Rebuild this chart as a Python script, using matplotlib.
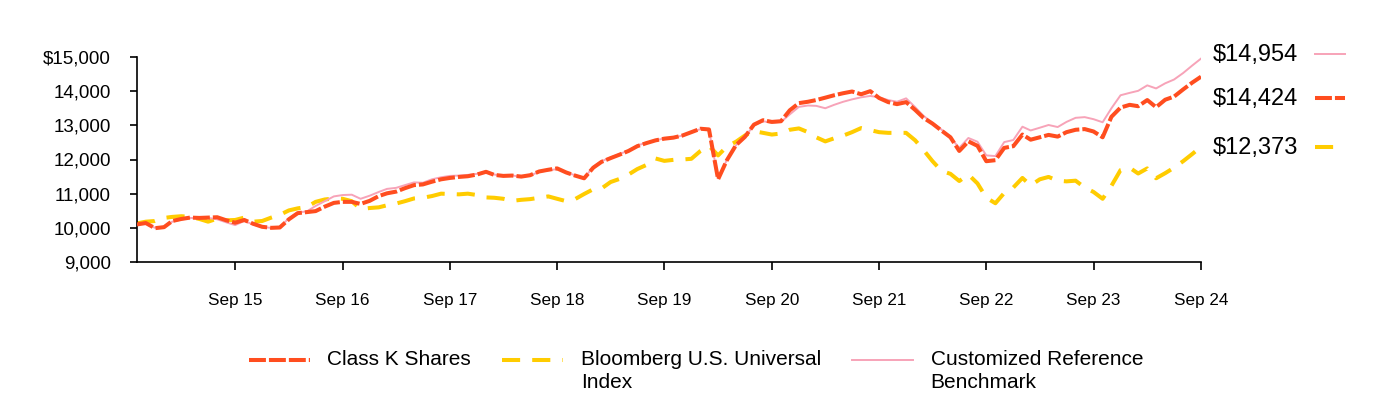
import numpy as np
import pandas as pd
import matplotlib.pyplot as plt
import matplotlib.dates as mdates
from matplotlib.lines import Line2D
from matplotlib.legend_handler import HandlerLine2D
from matplotlib.ticker import FuncFormatter

plt.rcParams['font.family'] = ['Liberation Sans', 'DejaVu Sans']

# Monthly values, Oct 2014 - Sep 2024
dates = pd.date_range('2014-10-31', periods=120, freq='ME')

class_k = [
    10100, 10140, 9990, 10020, 10200, 10260, 10300, 10290, 10300, 10310, 10220, 10150,
    10230, 10120, 10030, 10000, 10010, 10250, 10430, 10460, 10490, 10620, 10730, 10760,
    10760, 10700, 10790, 10930, 11010, 11060, 11160, 11250, 11270, 11350, 11420, 11460,
    11490, 11510, 11560, 11640, 11550, 11520, 11530, 11500, 11540, 11650, 11700, 11740,
    11620, 11530, 11450, 11760, 11930, 12040, 12140, 12250, 12390, 12480, 12560, 12610,
    12640, 12700, 12800, 12900, 12880, 11420, 11980, 12420, 12660, 13020, 13150, 13100,
    13120, 13440, 13650, 13690, 13740, 13810, 13880, 13940, 13990, 13910, 14000, 13800,
    13680, 13620, 13680, 13450, 13220, 13050, 12850, 12650, 12250, 12530, 12400, 11950,
    11980, 12340, 12390, 12730, 12580, 12650, 12720, 12670, 12800, 12870, 12890, 12820,
    12650, 13250, 13520, 13600, 13560, 13740, 13530, 13750, 13840, 14050, 14250, 14424,
]

bloomberg = [
    10130, 10180, 10200, 10290, 10320, 10340, 10320, 10260, 10180, 10270, 10220, 10230,
    10300, 10180, 10200, 10300, 10380, 10510, 10570, 10610, 10760, 10830, 10860, 10850,
    10780, 10550, 10580, 10600, 10660, 10710, 10780, 10860, 10880, 10930, 11000, 10990,
    10980, 11000, 10960, 10890, 10880, 10850, 10790, 10820, 10840, 10880, 10920, 10850,
    10780, 10840, 10990, 11130, 11150, 11340, 11430, 11560, 11720, 11840, 12030, 11960,
    11990, 12000, 12020, 12250, 12400, 12120, 12380, 12520, 12700, 12830, 12780, 12730,
    12760, 12870, 12910, 12800, 12650, 12530, 12620, 12700, 12800, 12920, 12860, 12800,
    12780, 12780, 12780, 12560, 12280, 11950, 11670, 11580, 11370, 11560, 11300, 10880,
    10720, 11020, 11180, 11460, 11240, 11420, 11490, 11380, 11360, 11380, 11180, 11050,
    10850, 11230, 11690, 11760, 11590, 11740, 11450, 11600, 11760, 11950, 12160, 12373,
]

customized = [
    10100, 10130, 10000, 10030, 10180, 10240, 10290, 10280, 10290, 10250, 10160, 10080,
    10200, 10100, 10020, 10000, 10020, 10280, 10450, 10480, 10640, 10780, 10920, 10960,
    10970, 10850, 10940, 11050, 11140, 11170, 11250, 11330, 11320, 11420, 11480, 11520,
    11530, 11550, 11580, 11650, 11560, 11520, 11530, 11500, 11530, 11640, 11680, 11720,
    11620, 11540, 11460, 11780, 11950, 12060, 12160, 12260, 12410, 12490, 12570, 12610,
    12640, 12700, 12800, 12890, 12860, 11450, 11990, 12420, 12660, 13000, 13120, 13080,
    13100, 13320, 13540, 13580, 13570, 13500, 13600, 13690, 13760, 13820, 13860, 13820,
    13740, 13690, 13790, 13530, 13280, 13070, 12880, 12640, 12340, 12630, 12520, 12120,
    12100, 12510, 12570, 12960, 12850, 12930, 13010, 12950, 13100, 13220, 13240, 13180,
    13090, 13500, 13880, 13950, 14010, 14170, 14080, 14230, 14340, 14530, 14750, 14954,
]

labels = ['Class K Shares\n ', 'Bloomberg U.S. Universal\nIndex', 'Customized Reference\nBenchmark']
ORANGE = '#FF4D1F'
YELLOW = '#FFCC00'
PINK = '#F7A3B8'

orange_style = dict(color=ORANGE, lw=2.9, linestyle=(0, (4.2, 0.75)))
yellow_style = dict(color=YELLOW, lw=2.9, linestyle=(0, (4.5, 3.0)))
pink_style = dict(color=PINK, lw=1.4, linestyle='-')


class FirstLineHandler(HandlerLine2D):
    """Put the legend line level with the first line of a two-line label"""
    def create_artists(self, legend, orig_handle, xdescent, ydescent,
                       width, height, fontsize, trans):
        arts = super().create_artists(legend, orig_handle, xdescent, ydescent,
                                      width, height, fontsize, trans)
        for a in arts:
            a.set_ydata(np.asarray(a.get_ydata()) + 8.5)
        return arts


fig = plt.figure(figsize=(13.84, 4.0), dpi=100)
ax = fig.add_axes([0.099, 0.345, 0.7688, 0.5125])

ax.plot(dates, bloomberg, zorder=2, **yellow_style)
ax.plot(dates, customized, zorder=3, **pink_style)
ax.plot(dates, class_k, zorder=4, **orange_style)

ax.set_xlim(dates[0], dates[-1])
ax.set_ylim(9000, 15000)
ax.set_yticks(range(9000, 15001, 1000))
ax.yaxis.set_major_formatter(FuncFormatter(
    lambda v, p: f'${v:,.0f}' if v == 15000 else f'{v:,.0f}'))
sep_ticks = [d for d in dates if d.month == 9]
ax.set_xticks(sep_ticks)
ax.xaxis.set_major_formatter(mdates.DateFormatter('%b %y'))

for s in ['top', 'right']:
    ax.spines[s].set_visible(False)
for s in ['left', 'bottom']:
    ax.spines[s].set_linewidth(1.2)
ax.tick_params(axis='y', length=5, width=1.2, pad=14, labelsize=13.5)
ax.tick_params(axis='x', length=6, width=1.2, pad=16, labelsize=12.3)

# End-value labels on the right
end_items = [
    (customized[-1], 0.862, pink_style),
    (class_k[-1], 0.752, orange_style),
    (bloomberg[-1], 0.630, yellow_style),
]
for val, yf, st in end_items:
    fig.text(0.8764, yf, f'${val:,.0f}', fontsize=17, va='center', ha='left')
    seg_end = 0.972 if st is not yellow_style else 0.965
    fig.add_artist(Line2D([0.950, seg_end], [yf + 0.003, yf + 0.003],
                          transform=fig.transFigure, **st))

handles = [Line2D([], [], **orange_style), Line2D([], [], **yellow_style),
           Line2D([], [], **pink_style)]
leg = fig.legend(handles, labels, loc='center', bbox_to_anchor=(0.503, 0.072), ncol=3,
                 frameon=False, fontsize=15, handlelength=2.9, handletextpad=0.86,
                 columnspacing=1.5, handler_map={Line2D: FirstLineHandler()})
for t in leg.get_texts():
    t.set_linespacing(1.25)

fig.savefig('out.png', dpi=100)
